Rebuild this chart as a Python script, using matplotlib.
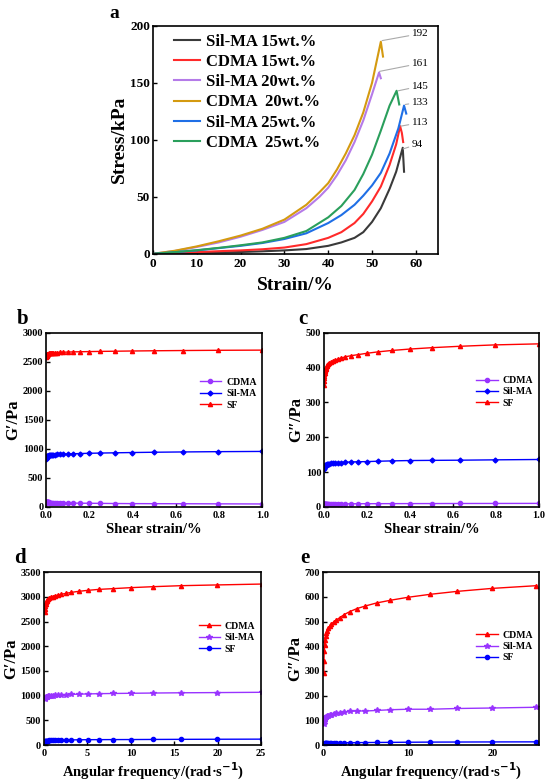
import matplotlib
matplotlib.use("Agg")
import matplotlib.pyplot as plt

plt.rcParams["font.family"] = ["Liberation Serif", "DejaVu Serif"]
plt.rcParams["font.weight"] = "bold"
plt.rcParams["mathtext.default"] = "bf"

# ---- panel a: stress-strain ----
silma15_x = [0, 5, 10, 15, 20, 25, 30, 35, 40, 43, 46, 48, 50, 52, 54, 55.5, 56.5, 57, 57.3]
silma15_y = [0, 0.4, 0.8, 1.2, 1.6, 2.2, 3, 4.2, 7, 10, 14, 19, 28, 40, 57, 72, 86, 93, 72]
cdma15_x = [0, 5, 10, 15, 20, 25, 30, 35, 40, 43, 46, 48, 50, 52, 54, 55.5, 56.4, 56.8, 57.1]
cdma15_y = [0, 0.8, 1.5, 2.3, 3, 4, 5.5, 8.5, 14, 19, 27, 35, 46, 59, 78, 96, 112, 106, 98]
silma20_x = [0, 5, 10, 15, 20, 25, 30, 35, 38, 40, 42, 44, 46, 48, 50, 51, 51.6, 52]
silma20_y = [0, 2.5, 6, 10, 15, 21, 28, 40, 50, 58, 69, 82, 98, 117, 140, 152, 159, 154]
cdma20_x = [0, 5, 10, 15, 20, 25, 30, 35, 38, 40, 42, 44, 46, 48, 50, 51, 52, 52.5]
cdma20_y = [0, 2.7, 6.5, 11, 16, 22, 30, 43, 54, 62, 74, 88, 104, 124, 150, 168, 186, 173]
silma25_x = [0, 5, 10, 15, 20, 25, 30, 35, 40, 43, 46, 48, 50, 52, 54, 56, 57.3, 57.8]
silma25_y = [0, 1.4, 3, 5, 7, 9.5, 13, 18, 27, 34, 43, 51, 60, 71, 88, 110, 130, 123]
cdma25_x = [0, 5, 10, 15, 20, 25, 30, 35, 40, 43, 46, 48, 50, 52, 54, 55.6, 56.2]
cdma25_y = [0, 1.5, 3.2, 5.2, 7.5, 10, 14, 20, 32, 42, 56, 70, 87, 108, 130, 143, 131]

curves_a = [
    ("Sil-MA 15wt.%", silma15_x, silma15_y, "#3a3a3a"),
    ("CDMA 15wt.%", cdma15_x, cdma15_y, "#ff2a2a"),
    ("Sil-MA 20wt.%", silma20_x, silma20_y, "#b57be8"),
    ("CDMA  20wt.%", cdma20_x, cdma20_y, "#d49a10"),
    ("Sil-MA 25wt.%", silma25_x, silma25_y, "#1f6fe6"),
    ("CDMA  25wt.%", cdma25_x, cdma25_y, "#2a9f5c"),
]

# peak labels: (text, peak x, peak y, label y)
peaks = [
    ("192", 52.3, 187, 193),
    ("161", 51.7, 160, 167),
    ("145", 56.0, 143, 147),
    ("133", 57.6, 131, 133),
    ("113", 56.6, 112, 115),
    ("94", 57.1, 92, 96),
]

# ---- panels b, c: strain sweep ----
strain = [0.001, 0.00126, 0.00158, 0.002, 0.00251, 0.00316, 0.00398, 0.00501, 0.00631,
          0.00794, 0.01, 0.0126, 0.0158, 0.02, 0.0251, 0.0316, 0.0398, 0.0501, 0.0631,
          0.0794, 0.1, 0.126, 0.158, 0.2, 0.251, 0.316, 0.398, 0.501, 0.631, 0.794, 1.0]
b_cdma = [90, 88, 86, 85, 84, 82, 81, 80, 79, 78, 77, 76, 75, 74, 73, 72, 71, 70, 69,
          68, 66, 65, 63, 62, 60, 58, 56, 55, 54, 52, 50]
b_silma = [830, 840, 848, 855, 860, 866, 870, 874, 877, 879, 882, 885, 888, 891, 894, 897,
           900, 903, 906, 908, 911, 915, 919, 923, 927, 931, 936, 941, 946, 951, 955]
b_sf = [2580, 2592, 2602, 2610, 2617, 2622, 2627, 2631, 2635, 2638, 2641, 2644, 2647, 2650,
        2652, 2654, 2657, 2659, 2662, 2664, 2667, 2670, 2672, 2675, 2678, 2681, 2685, 2689,
        2693, 2697, 2700]
c_cdma = [7, 7, 7, 7, 7, 7.2, 7.4, 7.5, 7.6, 7.7, 7.8, 7.9, 8, 8.1, 8.2, 8.3, 8.4, 8.5,
          8.6, 8.7, 8.8, 8.9, 9, 9.1, 9.2, 9.3, 9.4, 9.5, 9.7, 9.8, 10]
c_silma = [110, 112, 113, 114, 115, 116, 117, 118, 119, 119.5, 120, 121, 122, 123, 124,
           125, 125.5, 126, 126.5, 127, 128, 129, 129.5, 130, 131, 132, 133, 133.5, 134, 135, 136]
c_sf = [350, 362, 370, 376, 381, 385, 389, 392, 395, 397, 400, 403, 406, 409, 412, 415,
        418, 421, 424, 427, 431, 434, 437, 441, 445, 449, 453, 457, 461, 465, 468]

# ---- panels d, e: frequency sweep ----
freq = [0.1, 0.126, 0.158, 0.2, 0.251, 0.316, 0.398, 0.501, 0.631, 0.794, 1.0, 1.26, 1.58,
        2.0, 2.51, 3.16, 3.98, 5.01, 6.31, 7.94, 10.0, 12.6, 15.8, 19.9, 25.1]
d_cdma = [2700, 2760, 2810, 2850, 2885, 2915, 2940, 2960, 2978, 2993, 3005, 3020, 3035,
          3050, 3070, 3090, 3110, 3130, 3150, 3165, 3185, 3205, 3225, 3240, 3258]
d_silma = [930, 945, 955, 963, 970, 976, 981, 986, 990, 995, 1000, 1005, 1010, 1015, 1020,
           1025, 1030, 1035, 1040, 1044, 1048, 1053, 1058, 1062, 1068]
d_sf = [70, 75, 79, 82, 85, 87, 89, 91, 93, 94, 95, 97, 99, 101, 103, 105, 107, 109, 110,
        111, 112, 114, 116, 118, 120]
e_cdma = [290, 340, 380, 405, 425, 440, 452, 462, 472, 481, 490, 498, 506, 516, 528, 540,
          552, 563, 575, 586, 598, 610, 622, 634, 645]
e_silma = [85, 95, 102, 106, 109, 112, 115, 117, 119, 121, 123, 125, 128, 131, 134, 136,
           138, 138, 140, 143, 145, 145, 148, 150, 153]
e_sf = [5, 5.5, 6, 6.5, 7, 7.2, 7.5, 7.8, 8, 8.2, 8.5, 8.8, 9, 9.3, 9.5, 9.8, 10, 10.3,
        10.6, 11, 11.5, 12, 12.3, 12.7, 13]

RED = "#ff0000"
BLUE = "#0000ff"
VIOLET = "#9933ff"


def style_axes(ax, size):
    for sp in ax.spines.values():
        sp.set_linewidth(1.2)
    ax.tick_params(direction="in", length=3, width=1, labelsize=size, pad=2)
    ax.tick_params(axis="x", pad=3)
    for lab in ax.get_xticklabels() + ax.get_yticklabels():
        lab.set_fontweight("bold")


fig = plt.figure(figsize=(5.5, 7.81), dpi=100)

# panel a
ax = fig.add_axes([0.278, 0.675, 0.518, 0.292])
for name, xs, ys, col in curves_a:
    ax.plot(xs, ys, color=col, lw=1.5, label=name)
for txt, px, py, ly in peaks:
    ax.annotate(txt, xy=(px, py), xytext=(59, ly), fontsize=8, fontweight="normal",
                va="center", ha="left",
                arrowprops=dict(arrowstyle="-", color="#aaaaaa", lw=0.8, shrinkA=0, shrinkB=0))
ax.set_xlim(0, 65)
ax.set_ylim(0, 200)
ax.set_xticks([0, 10, 20, 30, 40, 50, 60])
ax.set_yticks([0, 50, 100, 150, 200])
ax.set_xlabel("Strain/%", fontsize=14, fontweight="bold", labelpad=5)
ax.set_ylabel("Stress/kPa", fontsize=14, fontweight="bold", labelpad=2)
style_axes(ax, 9.5)
leg = ax.legend(loc="upper left", bbox_to_anchor=(0.02, 1.03), frameon=False,
                prop=dict(size=12, weight="bold"), handlelength=1.6, labelspacing=0.25,
                handletextpad=0.35)
fig.text(0.198, 0.983, "a", fontsize=14, fontweight="bold", va="center")


def small_panel(rect, letter, lx, xs, series, xlim, ylim, yticks, xticks, xlabel, ylabel, leg_y):
    ax = fig.add_axes(rect)
    for name, ys, col, mk, ms in series:
        ax.plot(xs, ys, color=col, lw=1.0, marker=mk, ms=ms, label=name)
    ax.set_xlim(*xlim)
    ax.set_ylim(*ylim)
    ax.set_yticks(yticks)
    ax.set_xticks(xticks)
    ax.set_xlabel(xlabel, fontsize=10.5, fontweight="bold", labelpad=2)
    ax.set_ylabel(ylabel, fontsize=12, fontweight="bold", labelpad=1)
    style_axes(ax, 7.5)
    ax.legend(loc="center right", bbox_to_anchor=(1.0, leg_y), frameon=False,
              prop=dict(size=7, weight="bold"), handlelength=2.2, labelspacing=0.25,
              handletextpad=0.5, borderaxespad=0.2)
    fig.text(lx, rect[1] + rect[3] + 0.018, letter, fontsize=15, fontweight="bold", va="center")
    return ax


x_ticks_strain = [0.0, 0.2, 0.4, 0.6, 0.8, 1.0]
small_panel([0.084, 0.351, 0.393, 0.223], "b", 0.030, strain,
            [("CDMA", b_cdma, VIOLET, "o", 3), ("Sil-MA", b_silma, BLUE, "D", 2.5),
             ("SF", b_sf, RED, "^", 3)],
            (0, 1), (0, 3000), [0, 500, 1000, 1500, 2000, 2500, 3000], x_ticks_strain,
            "Shear strain/%", "G\u2032/Pa", 0.65)
small_panel([0.589, 0.351, 0.391, 0.223], "c", 0.543, strain,
            [("CDMA", c_cdma, VIOLET, "o", 3), ("Sil-MA", c_silma, BLUE, "D", 2.5),
             ("SF", c_sf, RED, "^", 3)],
            (0, 1), (0, 500), [0, 100, 200, 300, 400, 500], x_ticks_strain,
            "Shear strain/%", "G\u2033/Pa", 0.66)
small_panel([0.080, 0.046, 0.395, 0.2215], "d", 0.026, freq,
            [("CDMA", d_cdma, RED, "^", 3), ("Sil-MA", d_silma, VIOLET, "*", 4),
             ("SF", d_sf, BLUE, "o", 3)],
            (0, 25), (0, 3500), [0, 500, 1000, 1500, 2000, 2500, 3000, 3500],
            [0, 5, 10, 15, 20, 25],
            "Angular frequency/(rad\u00b7s$^{-1}$)", "G\u2032/Pa", 0.62)
small_panel([0.587, 0.046, 0.393, 0.2215], "e", 0.546, freq,
            [("CDMA", e_cdma, RED, "^", 3), ("Sil-MA", e_silma, VIOLET, "*", 4),
             ("SF", e_sf, BLUE, "o", 3)],
            (0, 25.4), (0, 700), [0, 100, 200, 300, 400, 500, 600, 700], [0, 10, 20],
            "Angular frequency/(rad\u00b7s$^{-1}$)", "G\u2033/Pa", 0.57)

fig.savefig("out.png", dpi=100)
